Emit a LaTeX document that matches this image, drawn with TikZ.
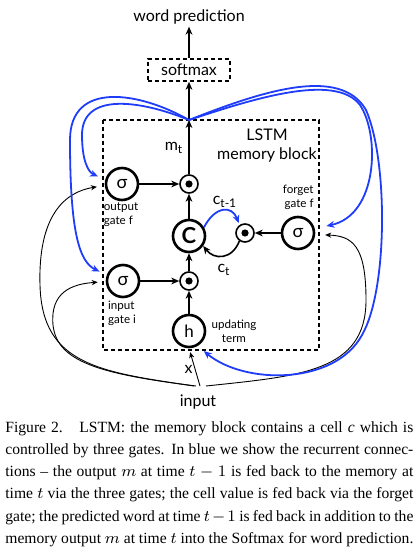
\documentclass[tikz,border=0pt]{standalone}
\usepackage{fontspec}
\setmainfont{Liberation Serif}
\newfontfamily\diagfont{Lato}
\usetikzlibrary{arrows.meta}
\definecolor{recblue}{RGB}{30,60,250}

\begin{document}
\begin{tikzpicture}[
    x=0.5pt, y=-0.5pt,
    txt/.style={font=\diagfont\fontsize{8}{9.5}\selectfont, inner sep=1pt},
    small_txt/.style={font=\diagfont\fontsize{5.8}{7}\selectfont, inner sep=0pt},
    unit/.style={circle, draw, line width=1.3pt, minimum size=16pt, inner sep=0pt, font=\diagfont\fontsize{9}{10}\selectfont},
    mult/.style={circle, draw, line width=0.8pt, minimum size=9pt, inner sep=0pt,
        path picture={\fill (path picture bounding box.center) circle[radius=1.8pt];}},
    dash_box/.style={draw, line width=0.8pt, dash pattern=on 2pt off 1.5pt},
    flow/.style={line width=0.8pt, -{Stealth[length=4pt, width=3.4pt]}},
    feed/.style={line width=0.45pt, -{Stealth[length=3pt, width=2.6pt]}, shorten >=4pt},
    recur/.style={recblue, line width=0.9pt, -{Stealth[length=4pt, width=3.4pt]}, shorten >=4pt}
]
    \useasboundingbox (0,0) rectangle (418,550);

    % --- memory block frame and output path ---
    \draw[dash_box] (103,120) rectangle (319,350);
    \node[txt, align=center] (blocklabel) at (267,146) {LSTM\\memory block};
    \node[txt, dash_box, minimum width=41pt, minimum height=11pt, inner sep=0pt] (softmax) at (189,70) {softmax};
    \node[txt] (pred) at (189,17) {word prediction};
    \coordinate (mout) at (189,120);

    % --- units ---
    \node[unit] (sigout) at (122,184) {σ};
    \node[mult] (mulout) at (189,184) {};
    \node[unit, font=\diagfont\bfseries\fontsize{11}{12}\selectfont] (cell) at (189,236) {C};
    \node[mult] (mulfgt) at (245,233) {};
    \node[unit] (sigfgt) at (298,233) {σ};
    \node[unit] (sigin) at (123,281) {σ};
    \node[mult] (mulin) at (189,281) {};
    \node[unit, font=\diagfont\fontsize{8.5}{10}\selectfont] (upd) at (189,331) {h};

    % --- labels ---
    \node[small_txt, align=left] (outlabel) at (121,215) {output\\gate f};
    \node[small_txt, align=right, anchor=east] (fgtlabel) at (314,197) {forget\\gate f};
    \node[small_txt, align=left] (inlabel) at (122,313) {input\\gate i};
    \node[small_txt, align=center] (updlabel) at (234,331) {updating\\term};
    \node[txt] (mlabel) at (174,148) {m\textsubscript{t}};
    \node[txt] (cprev) at (225,202) {c\textsubscript{t-1}};
    \node[txt] (cnow) at (224,270) {c\textsubscript{t}};
    \node[txt] (inp) at (198,402) {input};
    \coordinate (fan) at (200,386);

    % --- forward connections ---
    \draw[flow] (sigout) -- (mulout);
    \draw[flow] (sigin) -- (mulin);
    \draw[flow] (upd) -- (mulin);
    \draw[flow] (mulin) -- (cell);
    \draw[flow] (cell) -- (mulout);
    \draw[flow] (sigfgt) -- (mulfgt);
    \draw[flow] (mulout) -- (mout);
    \draw[flow] (mout) -- (softmax);
    \draw[flow] (softmax) -- (pred);
    \draw[flow] (mulfgt.235) .. controls (232,260) and (214,260) .. (cell.-35);

    % --- input to gates (thin) ---
    \draw[feed, shorten >=2pt] (fan) -- node[txt, pos=0.45, left] {x} (upd.south);
    \draw[feed] ([xshift=-3pt]fan) .. controls (100,372) and (42,365) .. (40,285)
        .. controls (38,215) and (65,192) .. (sigout.185);
    \draw[feed] ([xshift=-2pt]fan) .. controls (100,374) and (57,362) .. (53,325)
        .. controls (50,292) and (72,284) .. (sigin.182);
    \draw[feed, shorten >=5pt] ([xshift=3pt]fan) .. controls (300,376) and (366,372) .. (366,300)
        .. controls (366,245) and (352,236) .. (sigfgt.-5);

    % --- recurrent connections (blue) ---
    \draw[recur, shorten >=1pt] (cell.30) .. controls (215,206) and (232,205) .. (mulfgt.125);
    \draw[recur] (mout) .. controls (140,100) and (82,92) .. (82,135)
        .. controls (82,160) and (88,172) .. (sigout.165);
    \draw[recur] (mout) .. controls (140,92) and (70,80) .. (70,140)
        .. controls (70,235) and (80,262) .. (sigin.160);
    \draw[recur, shorten >=6pt] (mout) .. controls (250,100) and (335,72) .. (360,105)
        .. controls (380,135) and (378,215) .. (sigfgt.15);
    \draw[recur] (mout) .. controls (260,92) and (340,65) .. (366,110)
        .. controls (388,160) and (388,290) .. (362,335)
        .. controls (335,385) and (245,385) .. (upd.-60);

    % --- caption ---
    \node[anchor=north west, text width=204pt, align=justify, inner sep=0pt,
        font=\fontsize{7.8}{11.1}\selectfont] (caption) at (5,421)
        {Figure 2.\hspace{0.5em} LSTM: the memory block contains a cell \textit{c} which is\linebreak
        controlled by three gates. In blue we show the recurrent connec-\linebreak
        tions -- the output $m$ at time $t-1$ is fed back to the memory at\linebreak
        time $t$ via the three gates; the cell value is fed back via the forget\linebreak
        gate; the predicted word at time $t-1$ is fed back in addition to the\linebreak
        memory output $m$ at time $t$ into the Softmax for word prediction.};
\end{tikzpicture}
\end{document}
